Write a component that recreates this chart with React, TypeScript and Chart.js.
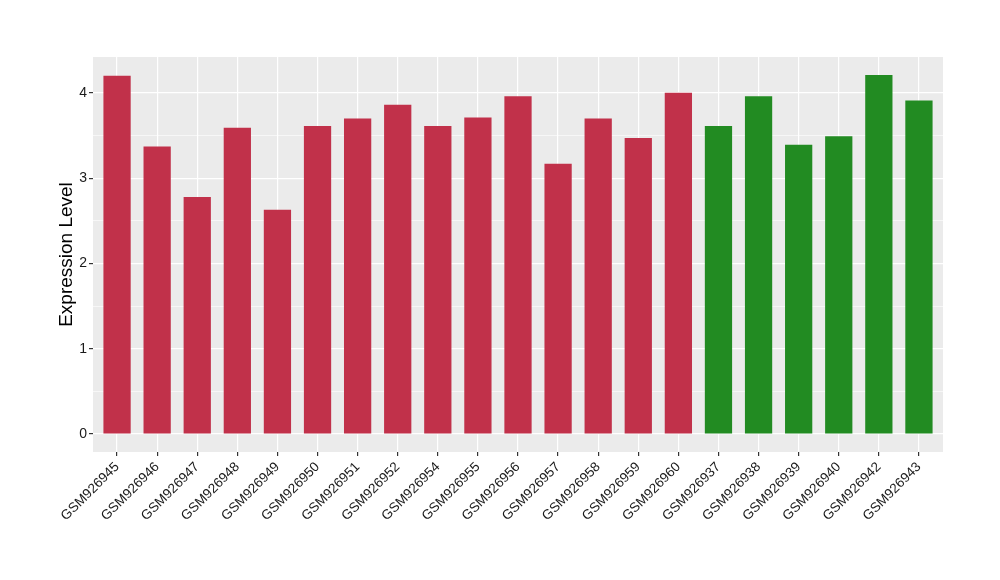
import React, { useEffect, useRef } from "react";
import { Chart, registerables } from "chart.js";

Chart.register(...registerables);

const samples = [
  "GSM926945", "GSM926946", "GSM926947", "GSM926948", "GSM926949", "GSM926950", "GSM926951",
  "GSM926952", "GSM926954", "GSM926955", "GSM926956", "GSM926957", "GSM926958", "GSM926959",
  "GSM926960", "GSM926937", "GSM926938", "GSM926939", "GSM926940", "GSM926942", "GSM926943",
];
const expression = [
  4.2, 3.37, 2.78, 3.59, 2.63, 3.61, 3.7, 3.86, 3.61, 3.71, 3.96, 3.17, 3.7, 3.47, 4.0,
  3.61, 3.96, 3.39, 3.49, 4.21, 3.91,
];
const groups = [
  "A", "A", "A", "A", "A", "A", "A", "A", "A", "A", "A", "A", "A", "A", "A",
  "B", "B", "B", "B", "B", "B",
];
const groupColors: Record<string, string> = { A: "#C1314A", B: "#228B22" };
const yTicks = [0, 1, 2, 3, 4];

const FONT = "'Liberation Sans', Arial, Helvetica, sans-serif";

const panelBg = {
  id: "panelBg",
  beforeDraw(chart: any) {
    const { ctx, chartArea } = chart;
    ctx.save();
    ctx.fillStyle = "#EBEBEB";
    ctx.fillRect(chartArea.left, chartArea.top, chartArea.right - chartArea.left, chartArea.bottom - chartArea.top);
    ctx.restore();
  },
};

export default function App() {
  const ref = useRef<HTMLCanvasElement>(null);
  useEffect(() => {
    if (!ref.current) return;
    const chart = new Chart(ref.current, {
      type: "bar",
      data: {
        datasets: [
          {
            data: expression.map((v, i) => ({ x: i, y: v })),
            backgroundColor: groups.map((g) => groupColors[g]),
            barPercentage: 0.68,
            categoryPercentage: 1,
          },
        ],
      },
      options: {
        animation: false,
        responsive: false,
        layout: { padding: { left: 55, right: 57, top: 57, bottom: 0 } },
        plugins: { legend: { display: false }, tooltip: { enabled: false } },
        scales: {
          x: {
            type: "linear",
            min: -0.6,
            max: samples.length - 1 + 0.6,
            offset: false,
            afterBuildTicks(scale: any) {
              scale.ticks = samples.map((_, i) => ({ value: i }));
            },
            grid: {
              offset: false,
              color: "#FFFFFF",
              lineWidth: 1.2,
              drawTicks: true,
              tickLength: 4,
              tickColor: "#333333",
            },
            border: { display: false },
            ticks: {
              minRotation: 45,
              maxRotation: 45,
              autoSkip: false,
              padding: 3,
              color: "#1A1A1A",
              font: { family: FONT, size: 13.5 },
              callback: (v: any) => samples[Number(v)] ?? "",
            },
            afterFit(scale: any) {
              scale.height = 128;
            },
          },
          y: {
            min: -0.21,
            max: 4.42,
            afterBuildTicks(scale: any) {
              const t: any[] = [];
              for (let v = 0; v <= 4; v += 0.5) t.push({ value: v });
              scale.ticks = t;
            },
            grid: {
              color: "#FFFFFF",
              lineWidth: (c: any) => (c.tick && Number.isInteger(c.tick.value) ? 1.2 : 0.6),
              drawTicks: true,
              tickLength: 4,
              tickColor: (c: any) => (c.tick && Number.isInteger(c.tick.value) ? "#333333" : "rgba(0,0,0,0)"),
            },
            border: { display: false },
            ticks: {
              padding: 2,
              color: "#1A1A1A",
              font: { family: FONT, size: 14 },
              callback: (v: any) => (yTicks.includes(Number(v)) ? String(v) : ""),
            },
            title: {
              display: true,
              text: "Expression Level",
              color: "#000000",
              font: { family: FONT, size: 19 },
              padding: { top: 0, bottom: 0 },
            },
            afterFit(scale: any) {
              scale.width = 38;
            },
          },
        },
      },
      plugins: [panelBg],
    });
    return () => chart.destroy();
  }, []);
  return (
    <div style={{ position: "absolute", left: 0, top: 0, width: 1000, height: 580, background: "#fff" }}>
      <canvas ref={ref} width={1000} height={580} />
    </div>
  );
}
